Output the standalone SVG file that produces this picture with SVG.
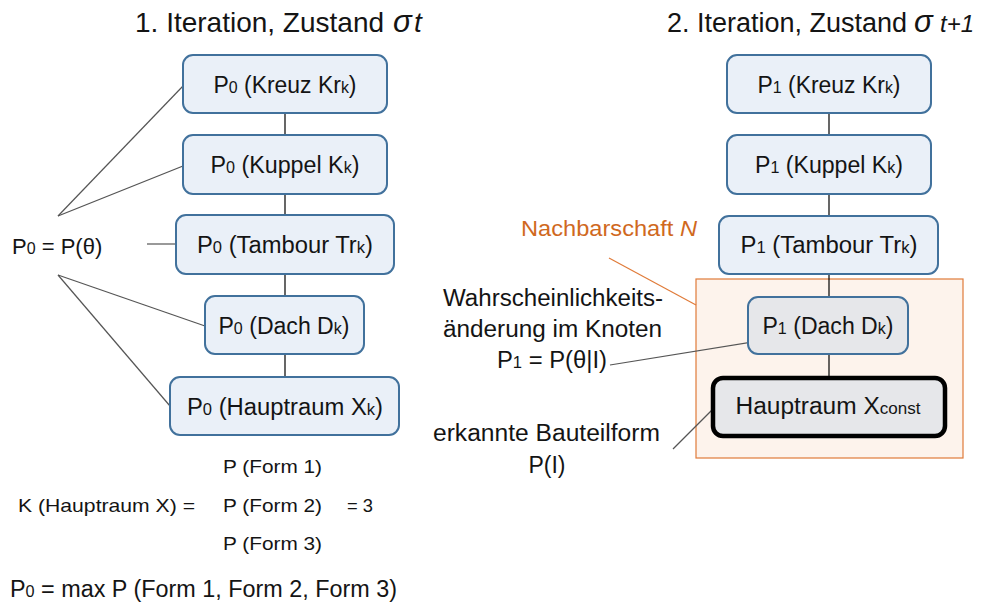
<svg xmlns="http://www.w3.org/2000/svg" width="991" height="608" viewBox="0 0 991 608">
<style>
text { font-family: "Liberation Sans", Arial, sans-serif; fill: #141414; }
.nt { font-size: 23px; text-anchor: middle; }
.sub { font-size: 16px; }
.title { font-size: 28px; }
.title2 { font-size: 27px; }
.lbl { font-size: 23px; }
.frm { font-size: 19px; }
.box { fill: #EAF0F8; stroke: #41719C; stroke-width: 2; }
.gbox { fill: #E6E7EA; stroke: #41719C; stroke-width: 2; }
.kbox { fill: #E6E7EA; stroke: #000; stroke-width: 4.5; }
.edge { stroke: #000; stroke-width: 1.2; fill: none; }
.lead { stroke: #555; stroke-width: 1.2; fill: none; }
.olead { stroke: #E07B39; stroke-width: 1.2; fill: none; }
.orange { fill: #D0691E; }
</style>
<rect width="991" height="608" fill="#fff"/>

<!-- titles -->
<text class="title" x="135" y="32">1. Iteration, Zustand <tspan x="393" font-style="italic" font-size="31px">σ</tspan><tspan x="414" font-style="italic">t</tspan></text>
<text class="title2" x="667" y="32">2. Iteration, Zustand <tspan x="914" font-style="italic" font-size="31px">σ</tspan><tspan x="940" font-style="italic" font-size="24px">t+1</tspan></text>

<!-- neighbourhood -->
<g id="nachbarschaft">
<rect x="696" y="279" width="267" height="179" fill="#FDF3EC" stroke="#E07B39" stroke-width="1.2"/>
<text class="orange" x="521" y="236" style="font-size:22px" textLength="176" lengthAdjust="spacingAndGlyphs">Nachbarschaft <tspan font-style="italic">N</tspan></text>
</g>

<!-- connectors -->
<g id="connectors">
<line class="edge" x1="285" y1="113" x2="285" y2="135"/>
<line class="edge" x1="285" y1="194" x2="285" y2="215"/>
<line class="edge" x1="285" y1="274" x2="285" y2="296"/>
<line class="edge" x1="285" y1="354" x2="285" y2="377"/>
<line class="edge" x1="829" y1="113" x2="829" y2="135"/>
<line class="edge" x1="829" y1="194" x2="829" y2="216"/>
<line class="edge" x1="829" y1="274" x2="829" y2="297"/>
<line class="edge" x1="829" y1="354" x2="829" y2="377"/>
<line class="lead" x1="58" y1="216" x2="183" y2="86" stroke="#777"/>
<line class="lead" x1="58" y1="216" x2="183" y2="166"/>
<line class="lead" x1="147" y1="244" x2="176" y2="244"/>
<line class="lead" x1="58" y1="275" x2="205" y2="326"/>
<line class="lead" x1="58" y1="275" x2="170" y2="406" stroke="#777"/>
<line class="lead" x1="610" y1="365" x2="765" y2="340"/>
<line class="lead" x1="673" y1="449" x2="713" y2="409"/>
<line class="olead" x1="609" y1="258" x2="696" y2="305"/>
</g>

<!-- left column -->
<g id="L1"><rect class="box" x="183" y="55" width="204" height="58" rx="10"/>
<text class="nt" x="285" y="93" textLength="143" lengthAdjust="spacingAndGlyphs">P<tspan class="sub">0</tspan> (Kreuz Kr<tspan class="sub">k</tspan>)</text></g>
<g id="L2"><rect class="box" x="183" y="135" width="204" height="59" rx="10"/>
<text class="nt" x="285" y="173" textLength="149" lengthAdjust="spacingAndGlyphs">P<tspan class="sub">0</tspan> (Kuppel K<tspan class="sub">k</tspan>)</text></g>
<g id="L3"><rect class="box" x="176" y="215" width="218" height="59" rx="10"/>
<text class="nt" x="285" y="253" textLength="176" lengthAdjust="spacingAndGlyphs">P<tspan class="sub">0</tspan> (Tambour Tr<tspan class="sub">k</tspan>)</text></g>
<g id="L4"><rect class="box" x="205" y="296" width="159" height="58" rx="10"/>
<text class="nt" x="284" y="334" textLength="131" lengthAdjust="spacingAndGlyphs">P<tspan class="sub">0</tspan> (Dach D<tspan class="sub">k</tspan>)</text></g>
<g id="L5"><rect class="box" x="170" y="377" width="229" height="58" rx="10"/>
<text class="nt" x="285" y="415" textLength="196" lengthAdjust="spacingAndGlyphs">P<tspan class="sub">0</tspan> (Hauptraum X<tspan class="sub">k</tspan>)</text></g>

<!-- right column -->
<g id="R1"><rect class="box" x="727" y="55" width="204" height="58" rx="10"/>
<text class="nt" x="829" y="93" textLength="143" lengthAdjust="spacingAndGlyphs">P<tspan class="sub">1</tspan> (Kreuz Kr<tspan class="sub">k</tspan>)</text></g>
<g id="R2"><rect class="box" x="727" y="135" width="204" height="59" rx="10"/>
<text class="nt" x="829" y="173" textLength="148" lengthAdjust="spacingAndGlyphs">P<tspan class="sub">1</tspan> (Kuppel K<tspan class="sub">k</tspan>)</text></g>
<g id="R3"><rect class="box" x="719" y="216" width="219" height="58" rx="10"/>
<text class="nt" x="829" y="253" textLength="177" lengthAdjust="spacingAndGlyphs">P<tspan class="sub">1</tspan> (Tambour Tr<tspan class="sub">k</tspan>)</text></g>
<g id="R4"><rect class="gbox" x="748" y="297" width="160" height="57" rx="10"/>
<text class="nt" x="828" y="334" textLength="131" lengthAdjust="spacingAndGlyphs">P<tspan class="sub">1</tspan> (Dach D<tspan class="sub">k</tspan>)</text></g>
<g id="R5"><rect class="kbox" x="713" y="378" width="232" height="58" rx="10"/>
<text class="nt" x="828" y="414" textLength="185" lengthAdjust="spacingAndGlyphs">Hauptraum X<tspan class="sub">const</tspan></text></g>

<!-- annotations -->
<g id="prior">
<text x="12" y="254" style="font-size:22px">P<tspan class="sub">0</tspan> = P(θ)</text>
</g>
<g id="aenderung">
<text class="lbl" x="443" y="306" textLength="220" lengthAdjust="spacingAndGlyphs">Wahrscheinlichkeits-</text>
<text class="lbl" x="443" y="337" textLength="219" lengthAdjust="spacingAndGlyphs">änderung im Knoten</text>
<text class="lbl" x="497" y="368" textLength="110" lengthAdjust="spacingAndGlyphs">P<tspan class="sub">1</tspan> = P(θ|I)</text>
</g>
<g id="bauteilform">
<text class="lbl" x="433" y="441" textLength="227" lengthAdjust="spacingAndGlyphs">erkannte Bauteilform</text>
<text class="lbl" x="547" y="473" text-anchor="middle">P(I)</text>
</g>
<g id="formel">
<text class="frm" x="223" y="473" textLength="99" lengthAdjust="spacingAndGlyphs">P (Form 1)</text>
<text class="frm" x="18" y="512" textLength="177" lengthAdjust="spacingAndGlyphs">K (Hauptraum X) =</text>
<text class="frm" x="223" y="512" textLength="99" lengthAdjust="spacingAndGlyphs">P (Form 2)</text>
<text class="frm" x="347" y="512" textLength="26" lengthAdjust="spacingAndGlyphs">= 3</text>
<text class="frm" x="223" y="550" textLength="99" lengthAdjust="spacingAndGlyphs">P (Form 3)</text>
<text x="10" y="597" style="font-size:23px" textLength="387" lengthAdjust="spacingAndGlyphs">P<tspan font-size="16px">0</tspan> = max P (Form 1, Form 2, Form 3)</text>
</g>
</svg>
